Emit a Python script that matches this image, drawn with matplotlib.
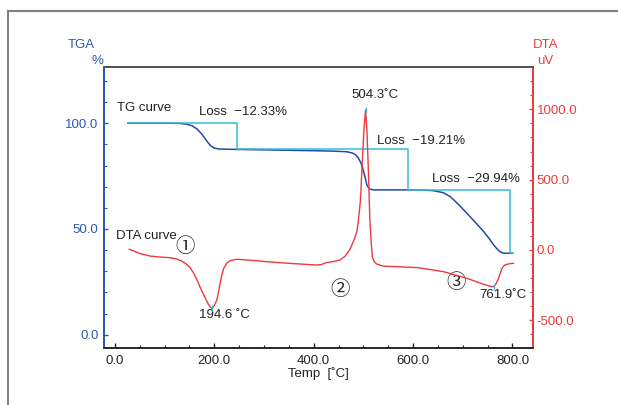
import numpy as np
import matplotlib
matplotlib.use('Agg')
import matplotlib.pyplot as plt
from matplotlib.lines import Line2D
from matplotlib.ticker import MultipleLocator, FixedLocator

plt.rcParams['font.family'] = ['Liberation Sans', 'DejaVu Sans']

# TG curve (temperature, weight %)
tg_temp = [26, 60, 100, 130, 145, 155, 165, 175, 185, 192, 200, 210, 230, 300, 350, 400, 440,
           467, 478, 485, 490, 495, 499, 503, 507, 512, 520, 580, 620, 641, 660, 675, 690,
           708, 725, 742, 752, 762, 770, 776, 782, 790, 800]
tg_weight = [100, 100, 100, 99.9, 99.5, 98.8, 97.3, 94.8, 91.5, 89.5, 88.2, 87.8, 87.67, 87.4,
             87.2, 87.0, 86.8, 86.5, 85.9, 84.9, 83.5, 81.2, 78.4, 74.8, 70.8, 68.9, 68.46,
             68.46, 68.4, 68.1, 67.2, 65.3, 61.9, 57.5, 53.2, 48.8, 45.8, 42.5, 40.3, 39.1,
             38.6, 38.52, 38.52]

# DTA curve (temperature, uV)
dta_temp = [29, 50, 70, 90, 111, 125, 134, 143, 151, 158, 165, 171, 177, 183, 188, 192, 194.6,
            198, 202, 205, 208, 211, 215, 219, 225, 232, 245, 270, 305, 350, 406, 415, 425,
            440, 453, 463, 473, 481, 487, 490, 494, 497, 501, 504.3, 507, 510, 513, 516, 518,
            522, 527, 540, 608, 661, 708, 742, 755, 761.9, 767, 772, 779, 784, 789, 795, 802]
dta_uv = [5, -25, -43, -50, -55, -65, -78, -98, -125, -162, -212, -262, -308, -350, -385, -407,
          -415, -405, -380, -355, -310, -250, -178, -130, -95, -75, -66, -72, -83, -95, -107,
          -104, -90, -82, -71, -45, 5, 70, 130, 213, 350, 569, 850, 995, 860, 569, 213, 40,
          -47, -85, -100, -115, -125, -154, -201, -244, -258, -261, -240, -201, -130, -108,
          -102, -97, -95]

# weight losses and step positions
losses = [12.33, 19.21, 29.94]
step_temp = [246, 590, 795]
peak_temp = [194.6, 504.3, 761.9]
peak_uv = [-415, 995, -261]

blue = '#2a58b0'
red = '#ec3a3f'
cyan = '#3cb9d5'
txt = '#222222'

fig = plt.figure(figsize=(6.18, 4.05), dpi=100)
ax = fig.add_axes([0.1683, 0.140, 0.6947, 0.6953])
ax2 = ax.twinx()

# step line for losses
levels = 100 - np.cumsum([0] + losses)
sx = [tg_temp[0]]
sy = [levels[0]]
for i in range(len(losses)):
    sx += [step_temp[i], step_temp[i]]
    sy += [levels[i], levels[i + 1]]
sx.append(802)
sy.append(levels[-1])

ax.plot(tg_temp, tg_weight, color='#1f4ca6', lw=1.1, zorder=3)
ax.plot(sx, sy, color=cyan, lw=1.1, zorder=4)
ax2.plot(dta_temp, dta_uv, color=red, lw=1.0)
ax2.plot(peak_temp, peak_uv, ls='none', marker='|', ms=5, mew=1.0, color=cyan)

ax.set_xlim(-22, 842)
ax.set_ylim(-6.4, 126.7)
ax2.set_ylim(-699, 1303)

ax.xaxis.set_major_locator(FixedLocator([0, 200, 400, 600, 800]))
ax.xaxis.set_minor_locator(MultipleLocator(50))
ax.set_xticklabels(['%.1f' % v for v in [0, 200, 400, 600, 800]])
ax.yaxis.set_major_locator(FixedLocator([0, 50, 100]))
ax.yaxis.set_minor_locator(MultipleLocator(10))
ax.set_yticklabels(['%.1f' % v for v in [0, 50, 100]])
ax2.yaxis.set_major_locator(FixedLocator([-500, 0, 500, 1000]))
ax2.yaxis.set_minor_locator(MultipleLocator(100))
ax2.set_yticklabels(['%.1f' % v for v in [-500, 0, 500, 1000]])

ax.tick_params(axis='x', which='both', direction='in', colors=txt, labelsize=9.5, pad=5)
ax.tick_params(axis='x', which='major', length=3.5, width=1)
ax.tick_params(axis='x', which='minor', length=2, width=0.8)
ax.tick_params(axis='y', which='both', direction='in', colors=blue, labelsize=9.5, pad=4)
ax.tick_params(axis='y', which='major', length=3, width=1)
ax.tick_params(axis='y', which='minor', length=2.5, width=0.8)
ax2.tick_params(axis='y', which='both', direction='in', colors=red, labelsize=9.5, pad=2.5)
ax2.tick_params(axis='y', which='major', length=3, width=1)
ax2.tick_params(axis='y', which='minor', length=2.5, width=0.8)

for a in (ax, ax2):
    a.spines['top'].set_color('#555555')
    a.spines['top'].set_linewidth(1.4)
    a.spines['bottom'].set_color('#222222')
    a.spines['bottom'].set_linewidth(1.1)
    a.spines['left'].set_color(blue)
    a.spines['left'].set_linewidth(1.3)
    a.spines['right'].set_color(red)
    a.spines['right'].set_linewidth(1.3)

# annotations
fs = 9.5
ax.text(3.4, 107.1, 'TG curve', ha='left', va='center', fontsize=fs, color=txt)
ax.text(169.8, 105.2, 'Loss  \u2212%.2f%%' % losses[0], ha='left', va='center', fontsize=fs, color=txt)
ax.text(527, 91.8, 'Loss  \u2212%.2f%%' % losses[1], ha='left', va='center', fontsize=fs, color=txt)
ax.text(637.7, 73.6, 'Loss  \u2212%.2f%%' % losses[2], ha='left', va='center', fontsize=fs, color=txt)
ax.text(2, 46.8, 'DTA curve', ha='left', va='center', fontsize=fs, color=txt)
ax.text(523.6, 113.3, '504.3\u02daC', ha='center', va='center', fontsize=fs, color=txt)
ax.text(219.5, 9.25, '194.6 \u02daC', ha='center', va='center', fontsize=fs, color=txt)
ax.text(781.3, 19.0, '761.9\u02daC', ha='center', va='center', fontsize=fs, color=txt)
circ = ['Noto Sans CJK SC', 'DejaVu Sans']
ax.text(141, 41.8, '\u2460', ha='center', va='center', fontsize=14, color=txt, family=circ)
ax.text(453, 21.4, '\u2461', ha='center', va='center', fontsize=14, color=txt, family=circ)
ax.text(686, 24.5, '\u2462', ha='center', va='center', fontsize=14, color=txt, family=circ)

# axis titles
fig.text(94.5 / 618, 1 - 45 / 405, 'TGA', ha='right', va='center', fontsize=9.5, color=blue)
fig.text(103 / 618, 1 - 61 / 405, '%', ha='right', va='center', fontsize=9.5, color=blue)
fig.text(533 / 618, 1 - 45 / 405, 'DTA', ha='left', va='center', fontsize=9.5, color=red)
fig.text(537 / 618, 1 - 60.7 / 405, 'uV', ha='left', va='center', fontsize=9.5, color=red)
fig.text(318 / 618, 1 - 374 / 405, 'Temp  [\u02daC]', ha='center', va='center', fontsize=9.5, color=txt)

# outer frame
fig.add_artist(Line2D([7.5 / 618, 7.5 / 618], [0, 1 - 11 / 405], color='#808080', lw=1.5))
fig.add_artist(Line2D([7.5 / 618, 1], [1 - 11 / 405, 1 - 11 / 405], color='#808080', lw=1.5))

fig.savefig('out.png', dpi=100)
